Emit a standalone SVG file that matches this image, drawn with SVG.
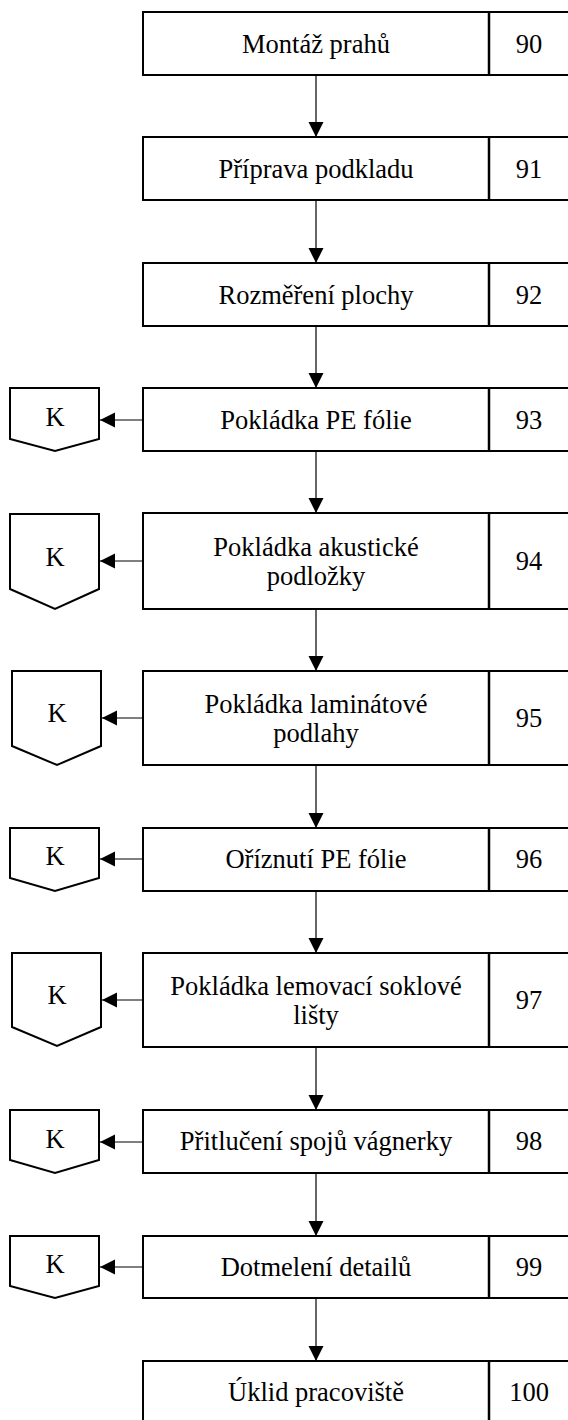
<svg xmlns="http://www.w3.org/2000/svg" width="568" height="1420" viewBox="0 0 568 1420">
  <style>
    .box { fill: #ffffff; stroke: #000000; stroke-width: 2; }
    .div { stroke: #000000; stroke-width: 2.5; }
    .kbox { fill: #ffffff; stroke: #000000; stroke-width: 2; }
    .lbl { font-family: 'Liberation Serif', 'DejaVu Serif', serif; font-size: 26.5px; fill: #000000; text-anchor: middle; }
    .conn { stroke: #000000; stroke-width: 1.2; fill: none; }
  </style>
  <defs>
    <marker id="arrow" markerUnits="userSpaceOnUse" markerWidth="16" markerHeight="16" viewBox="0 0 16 16" refX="15" refY="8" orient="auto">
      <path d="M0,0.5 L15,8 L0,15.5 Z" fill="#000000"/>
    </marker>
  </defs>

  <rect width="568" height="1420" fill="#ffffff"/>

  <!-- connectors -->
  <g id="connectors">
    <line class="conn" x1="316" y1="75" x2="316" y2="137" marker-end="url(#arrow)"/>
    <line class="conn" x1="316" y1="200" x2="316" y2="263" marker-end="url(#arrow)"/>
    <line class="conn" x1="316" y1="326" x2="316" y2="388" marker-end="url(#arrow)"/>
    <line class="conn" x1="316" y1="451" x2="316" y2="513" marker-end="url(#arrow)"/>
    <line class="conn" x1="316" y1="609" x2="316" y2="671" marker-end="url(#arrow)"/>
    <line class="conn" x1="316" y1="765" x2="316" y2="828" marker-end="url(#arrow)"/>
    <line class="conn" x1="316" y1="891" x2="316" y2="953" marker-end="url(#arrow)"/>
    <line class="conn" x1="316" y1="1047" x2="316" y2="1110" marker-end="url(#arrow)"/>
    <line class="conn" x1="316" y1="1173" x2="316" y2="1236" marker-end="url(#arrow)"/>
    <line class="conn" x1="316" y1="1298" x2="316" y2="1361" marker-end="url(#arrow)"/>

    <line class="conn" x1="143" y1="420" x2="100" y2="420" marker-end="url(#arrow)"/>
    <line class="conn" x1="143" y1="561" x2="100" y2="561" marker-end="url(#arrow)"/>
    <line class="conn" x1="143" y1="718" x2="102" y2="718" marker-end="url(#arrow)"/>
    <line class="conn" x1="143" y1="859" x2="100" y2="859" marker-end="url(#arrow)"/>
    <line class="conn" x1="143" y1="1000" x2="102" y2="1000" marker-end="url(#arrow)"/>
    <line class="conn" x1="143" y1="1142" x2="100" y2="1142" marker-end="url(#arrow)"/>
    <line class="conn" x1="143" y1="1267" x2="100" y2="1267" marker-end="url(#arrow)"/>
  </g>

  <!-- process steps -->
  <g id="step90">
    <rect class="box" x="143" y="12" width="430" height="63"/>
    <line class="div" x1="489" y1="12" x2="489" y2="75"/>
    <text class="lbl" x="316" y="53">Montáž prahů</text>
    <text class="lbl" x="529" y="53">90</text>
  </g>
  <g id="step91">
    <rect class="box" x="143" y="137" width="430" height="63"/>
    <line class="div" x1="489" y1="137" x2="489" y2="200"/>
    <text class="lbl" x="316" y="178">Příprava podkladu</text>
    <text class="lbl" x="529" y="178">91</text>
  </g>
  <g id="step92">
    <rect class="box" x="143" y="263" width="430" height="63"/>
    <line class="div" x1="489" y1="263" x2="489" y2="326"/>
    <text class="lbl" x="316" y="304">Rozměření plochy</text>
    <text class="lbl" x="529" y="304">92</text>
  </g>
  <g id="step93">
    <rect class="box" x="143" y="388" width="430" height="63"/>
    <line class="div" x1="489" y1="388" x2="489" y2="451"/>
    <text class="lbl" x="316" y="429">Pokládka PE fólie</text>
    <text class="lbl" x="529" y="429">93</text>
  </g>
  <g id="step94">
    <rect class="box" x="143" y="513" width="430" height="96"/>
    <line class="div" x1="489" y1="513" x2="489" y2="609"/>
    <text class="lbl" x="316" y="556">Pokládka akustické</text>
    <text class="lbl" x="316" y="585">podložky</text>
    <text class="lbl" x="529" y="570">94</text>
  </g>
  <g id="step95">
    <rect class="box" x="143" y="671" width="430" height="94"/>
    <line class="div" x1="489" y1="671" x2="489" y2="765"/>
    <text class="lbl" x="316" y="713">Pokládka laminátové</text>
    <text class="lbl" x="316" y="742">podlahy</text>
    <text class="lbl" x="529" y="727">95</text>
  </g>
  <g id="step96">
    <rect class="box" x="143" y="828" width="430" height="63"/>
    <line class="div" x1="489" y1="828" x2="489" y2="891"/>
    <text class="lbl" x="316" y="868">Oříznutí PE fólie</text>
    <text class="lbl" x="529" y="868">96</text>
  </g>
  <g id="step97">
    <rect class="box" x="143" y="953" width="430" height="94"/>
    <line class="div" x1="489" y1="953" x2="489" y2="1047"/>
    <text class="lbl" x="316" y="995">Pokládka lemovací soklové</text>
    <text class="lbl" x="316" y="1024">lišty</text>
    <text class="lbl" x="529" y="1009">97</text>
  </g>
  <g id="step98">
    <rect class="box" x="143" y="1110" width="430" height="63"/>
    <line class="div" x1="489" y1="1110" x2="489" y2="1173"/>
    <text class="lbl" x="316" y="1150">Přitlučení spojů vágnerky</text>
    <text class="lbl" x="529" y="1150">98</text>
  </g>
  <g id="step99">
    <rect class="box" x="143" y="1236" width="430" height="62"/>
    <line class="div" x1="489" y1="1236" x2="489" y2="1298"/>
    <text class="lbl" x="316" y="1276">Dotmelení detailů</text>
    <text class="lbl" x="529" y="1276">99</text>
  </g>
  <g id="step100">
    <rect class="box" x="143" y="1361" width="430" height="70"/>
    <line class="div" x1="489" y1="1361" x2="489" y2="1425"/>
    <text class="lbl" x="316" y="1401">Úklid pracoviště</text>
    <text class="lbl" x="529" y="1401">100</text>
  </g>

  <!-- control markers -->
  <g id="k93">
    <path class="kbox" d="M10,388 H99 V439 L55,451 L10,439 Z"/>
    <text class="lbl" x="55" y="426">K</text>
  </g>
  <g id="k94">
    <path class="kbox" d="M10,514 H99 V589 L55,609 L10,589 Z"/>
    <text class="lbl" x="55" y="566">K</text>
  </g>
  <g id="k95">
    <path class="kbox" d="M12,671 H101 V746 L57,765 L12,746 Z"/>
    <text class="lbl" x="57" y="722">K</text>
  </g>
  <g id="k96">
    <path class="kbox" d="M10,828 H99 V878 L55,891 L10,878 Z"/>
    <text class="lbl" x="55" y="865">K</text>
  </g>
  <g id="k97">
    <path class="kbox" d="M12,953 H101 V1027 L57,1046 L12,1027 Z"/>
    <text class="lbl" x="57" y="1004">K</text>
  </g>
  <g id="k98">
    <path class="kbox" d="M10,1110 H99 V1160 L55,1173 L10,1160 Z"/>
    <text class="lbl" x="55" y="1148">K</text>
  </g>
  <g id="k99">
    <path class="kbox" d="M10,1236 H99 V1286 L55,1298 L10,1286 Z"/>
    <text class="lbl" x="55" y="1273">K</text>
  </g>
</svg>
